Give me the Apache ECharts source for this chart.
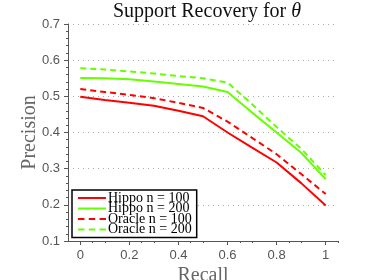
<!DOCTYPE html>
<html><head><meta charset="utf-8">
<script src="https://cdn.jsdelivr.net/npm/echarts@6/dist/echarts.min.js"></script>
<style>html,body{margin:0;padding:0;background:#fff}#c{width:374px;height:280px}</style>
</head><body><div id="c"></div>
<script>
const recall = [0, 0.1, 0.2, 0.3, 0.4, 0.5, 0.6, 0.7, 0.8, 0.9, 1.0];
const hippo100 = [0.499, 0.490, 0.482, 0.474, 0.460, 0.445, 0.400, 0.358, 0.317, 0.260, 0.198];
const hippo200 = [0.551, 0.550, 0.547, 0.541, 0.534, 0.527, 0.512, 0.455, 0.400, 0.344, 0.271];
const oracle100 = [0.520, 0.512, 0.504, 0.495, 0.482, 0.468, 0.430, 0.385, 0.340, 0.285, 0.230];
const oracle200 = [0.578, 0.574, 0.569, 0.563, 0.556, 0.550, 0.538, 0.478, 0.415, 0.355, 0.282];
const names = ['Hippo n = 100', 'Hippo n = 200', 'Oracle n = 100', 'Oracle n = 200'];
const xTicks = [0, 0.2, 0.4, 0.6, 0.8, 1];

const RED = '#ff0000', GREEN = '#66ff00';
const SOLID_ICON = 'path://M0,0h28v2h-28z';
const DASH_ICON = 'path://M0,0h6v2h-6zM10,0h6v2h-6zM20,0h6v2h-6z';
function mk(name, vals, color, dashed) {
  return {
    name, type: 'line', symbol: 'none', showSymbol: false,
    data: recall.map((r, i) => [r, vals[i]]),
    lineStyle: { color, width: 2, type: dashed ? [6, 4] : 'solid' },
    itemStyle: { color },
    animation: false
  };
}
const chart = echarts.init(document.getElementById('c'), null, { renderer: 'canvas' });
chart.setOption({
  animation: false,
  title: {
    text: 'Support Recovery for {i|θ}',
    left: 202, textAlign: 'center', top: -3,
    textStyle: { fontFamily: 'Liberation Serif', fontSize: 20, fontWeight: 'normal', color: '#111',
      rich: { i: { fontFamily: 'Liberation Serif', fontStyle: 'italic', fontSize: 20, color: '#111' } } }
  },
  grid: { left: 68, right: 36, top: 24, bottom: 39, containLabel: false, outerBoundsMode: 'none' },
  legend: {
    orient: 'vertical', left: 72, top: 190,
    data: [
      { name: names[0], icon: SOLID_ICON },
      { name: names[1], icon: SOLID_ICON },
      { name: names[2], icon: DASH_ICON },
      { name: names[3], icon: DASH_ICON }
    ],
    itemGap: -3.5, itemWidth: 28, itemHeight: 11.5,
    padding: [1, 5, 1, 6],
    borderColor: '#000', borderWidth: 1.5, backgroundColor: '#fff',
    textStyle: { fontFamily: 'Liberation Serif', fontSize: 14, color: '#000', padding: [0, 0, 0, -3] }
  },
  xAxis: {
    type: 'value', min: -0.05, max: 1.05, interval: 0.2,
    name: 'Recall', nameLocation: 'middle', nameGap: 25, nameMoveOverlap: false,
    nameTextStyle: { fontFamily: 'Liberation Serif', fontSize: 20, color: '#666' },
    axisLine: { show: true, onZero: false, lineStyle: { color: '#555', width: 1 } },
    axisTick: { show: true, length: 4, lineStyle: { color: '#555' }, customValues: xTicks },
    minorTick: { show: true, splitNumber: 4, length: 2, lineStyle: { color: '#555' } },
    axisLabel: { color: '#555', fontFamily: 'Liberation Sans', fontSize: 13, margin: 8,
      customValues: xTicks,
      formatter: v => String(Math.round(v * 10) / 10) },
    splitLine: { show: false }
  },
  yAxis: {
    type: 'value', min: 0.1, max: 0.7, interval: 0.1,
    name: 'Precision', nameLocation: 'middle', nameGap: 28, nameMoveOverlap: false,
    nameTextStyle: { fontFamily: 'Liberation Serif', fontSize: 20, color: '#666' },
    axisLine: { show: true, onZero: false, lineStyle: { color: '#555', width: 1 } },
    axisTick: { show: true, length: 4, lineStyle: { color: '#555' } },
    minorTick: { show: true, splitNumber: 5, length: 2, lineStyle: { color: '#555' } },
    axisLabel: { color: '#555', fontFamily: 'Liberation Sans', fontSize: 13, margin: 8,
      formatter: v => String(Math.round(v * 10) / 10) },
    splitLine: { show: true, lineStyle: { color: '#aaa', type: [1, 4], width: 1 } }
  },
  series: [
    mk(names[0], hippo100, RED, false),
    mk(names[1], hippo200, GREEN, false),
    mk(names[2], oracle100, RED, true),
    mk(names[3], oracle200, GREEN, true)
  ]
});
</script></body></html>
